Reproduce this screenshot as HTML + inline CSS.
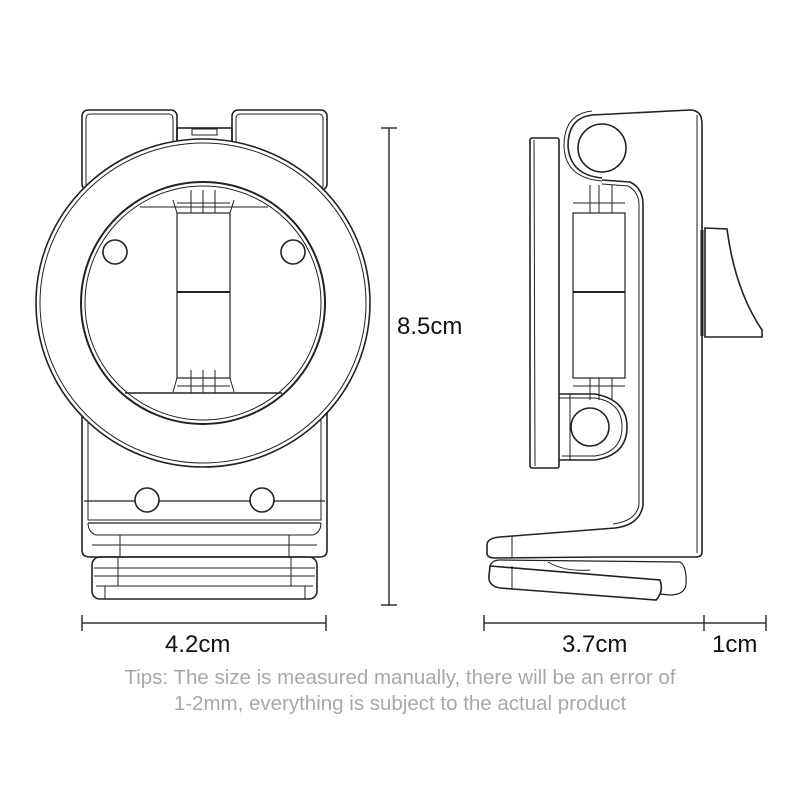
<!DOCTYPE html>
<html><head><style>
html,body{margin:0;padding:0;background:#fff;}
svg{display:block;}
text{font-family:"Liberation Sans",sans-serif;}
</style></head><body>
<svg width="800" height="800" viewBox="0 0 800 800" fill="none" stroke="#222" stroke-width="1.6">
<!-- LEFT DEVICE -->
<rect x="82" y="110" width="95" height="80" rx="6"/>
<rect x="86" y="114" width="87" height="76" rx="4" stroke-width="1"/>
<rect x="232" y="110" width="95" height="80" rx="6"/>
<rect x="236" y="114" width="87" height="76" rx="4" stroke-width="1"/>
<rect x="177" y="128" width="55" height="20"/>
<rect x="192" y="129" width="25" height="6" stroke-width="1"/>
<path d="M82 380 L82 550 Q82 557 90 557 L320 557 Q327 557 327 550 L327 380"/>
<path d="M88 400 L88 520 L321 520 L321 400" stroke-width="1"/>
<line x1="84" y1="501" x2="325" y2="501" stroke-width="1.2"/>
<line x1="88" y1="523" x2="321" y2="523" stroke-width="1.2"/>
<path d="M88 523 Q88 532 96 535 L313 535 Q321 532 321 523" stroke-width="1"/>
<circle cx="147" cy="500" r="12" fill="#fff"/>
<circle cx="262" cy="500" r="12" fill="#fff"/>
<line x1="92" y1="545" x2="317" y2="545" stroke-width="1"/>
<line x1="120" y1="535" x2="120" y2="557" stroke-width="1"/>
<line x1="289" y1="535" x2="289" y2="557" stroke-width="1"/>
<rect x="92" y="557" width="225" height="42" rx="8"/>
<line x1="94" y1="568" x2="315" y2="568" stroke-width="1"/>
<line x1="94" y1="576" x2="315" y2="576" stroke-width="1"/>
<line x1="96" y1="586" x2="313" y2="586" stroke-width="1"/>
<line x1="118" y1="557" x2="118" y2="586" stroke-width="1"/>
<line x1="291" y1="557" x2="291" y2="586" stroke-width="1"/>
<line x1="105" y1="586" x2="105" y2="599" stroke-width="1"/>
<line x1="305" y1="586" x2="305" y2="599" stroke-width="1"/>
<ellipse cx="203" cy="303" rx="167" ry="164" fill="#fff"/>
<ellipse cx="203" cy="303" rx="163" ry="160" stroke-width="1"/>
<ellipse cx="203" cy="303" rx="122" ry="121" stroke-width="2"/>
<ellipse cx="203" cy="303" rx="118" ry="117" stroke-width="1"/>
<line x1="140" y1="207" x2="268" y2="207" stroke-width="1"/>
<line x1="125" y1="393" x2="282" y2="393" stroke-width="1.4"/>
<circle cx="115" cy="252" r="12"/>
<circle cx="293" cy="252" r="12"/>
<rect x="177" y="213" width="53" height="165" stroke-width="1.2"/>
<line x1="177" y1="292" x2="230" y2="292" stroke-width="2"/>
<path d="M173 200 L177 213 L230 213 L234 200" stroke-width="1"/>
<path d="M173 392 L177 378 L230 378 L234 392" stroke-width="1"/>
<line x1="191" y1="190" x2="191" y2="213" stroke-width="1"/>
<line x1="203" y1="190" x2="203" y2="213" stroke-width="1"/>
<line x1="215" y1="190" x2="215" y2="213" stroke-width="1"/>
<line x1="177" y1="203" x2="230" y2="203" stroke-width="1"/>
<line x1="191" y1="370" x2="191" y2="393" stroke-width="1"/>
<line x1="203" y1="370" x2="203" y2="393" stroke-width="1"/>
<line x1="215" y1="370" x2="215" y2="393" stroke-width="1"/>
<line x1="177" y1="386" x2="230" y2="386" stroke-width="1"/>

<!-- RIGHT DEVICE -->
<rect x="530" y="138" width="29" height="330" rx="2"/>
<line x1="534" y1="140" x2="535" y2="466" stroke-width="1"/>
<path d="M592 115 L690 110 Q702 110 702 124 L702 552 Q702 557 696 557 L600 557"/>
<line x1="697" y1="115" x2="697" y2="553" stroke-width="1"/>
<path d="M602 178 Q570 175 568 146 Q568 118 592 115" />
<path d="M602 181 Q565 178 564 146 Q564 114 592 111" stroke-width="1"/>
<circle cx="602" cy="148" r="24"/>
<path d="M602 180 L630 182 Q643 188 643 205 L643 505 Q640 525 615 528 L500 537"/>
<path d="M602 184 L628 186 Q639 192 639 205 L639 505 Q636 521 613 524" stroke-width="1"/>
<rect x="573" y="213" width="52" height="165" stroke-width="1.2"/>
<line x1="573" y1="292" x2="625" y2="292" stroke-width="2"/>
<line x1="573" y1="203" x2="625" y2="203" stroke-width="1"/>
<line x1="590" y1="185" x2="590" y2="213" stroke-width="1"/>
<line x1="599" y1="185" x2="599" y2="213" stroke-width="1"/>
<line x1="612" y1="185" x2="612" y2="213" stroke-width="1"/>
<line x1="573" y1="386" x2="625" y2="386" stroke-width="1"/>
<line x1="590" y1="378" x2="590" y2="400" stroke-width="1"/>
<line x1="599" y1="378" x2="599" y2="400" stroke-width="1"/>
<line x1="612" y1="378" x2="612" y2="400" stroke-width="1"/>
<path d="M559 394 L595 394 Q627 400 627 427 Q627 455 595 460 L559 460" />
<path d="M559 398 L595 398 Q622 402 622 427 Q622 452 595 456 L562 456" stroke-width="1"/>
<circle cx="590" cy="427" r="19"/>
<line x1="570" y1="394" x2="570" y2="460" stroke-width="1"/>
<path d="M705 228 L727 229 Q735 290 762 330 L762 337 L705 337 Z"/>
<line x1="702" y1="230" x2="702" y2="336" stroke-width="3"/>
<path d="M500 537 Q487 538 487 545 L487 553 Q487 558 495 558 L600 557" />
<line x1="512" y1="536" x2="512" y2="557" stroke-width="1"/>
<path d="M490 566 L660 580 Q664 592 656 600 L500 588 Q488 586 489 576 Z"/>
<line x1="512" y1="566" x2="512" y2="590" stroke-width="1"/>
<path d="M490 566 Q492 560 500 560 L680 562 Q687 566 686 585 Q684 595 670 595 L660 594" stroke-width="1.2"/>
<path d="M548 562 Q565 572 590 570" stroke-width="1"/>
<!-- DIMENSIONS -->
<g stroke="#333" stroke-width="1.5">
<line x1="389" y1="128" x2="389" y2="606"/>
<line x1="381" y1="128" x2="397" y2="128"/>
<line x1="381" y1="605" x2="397" y2="605"/>
<line x1="82" y1="623" x2="326" y2="623"/>
<line x1="82" y1="615" x2="82" y2="631"/>
<line x1="326" y1="615" x2="326" y2="631"/>
<line x1="484" y1="623" x2="766" y2="623"/>
<line x1="484" y1="615" x2="484" y2="631"/>
<line x1="704" y1="615" x2="704" y2="631"/>
<line x1="766" y1="615" x2="766" y2="631"/>
</g>
<g fill="#111" stroke="none" font-size="24">
<text x="397" y="334">8.5cm</text>
<text x="165" y="652">4.2cm</text>
<text x="562" y="652">3.7cm</text>
<text x="712" y="652">1cm</text>
</g>
<g fill="#a8a8a8" stroke="none" font-size="20.5" text-anchor="middle">
<text x="400" y="684">Tips: The size is measured manually, there will be an error of</text>
<text x="400" y="710">1-2mm, everything is subject to the actual product</text>
</g>
</svg>
</body></html>
